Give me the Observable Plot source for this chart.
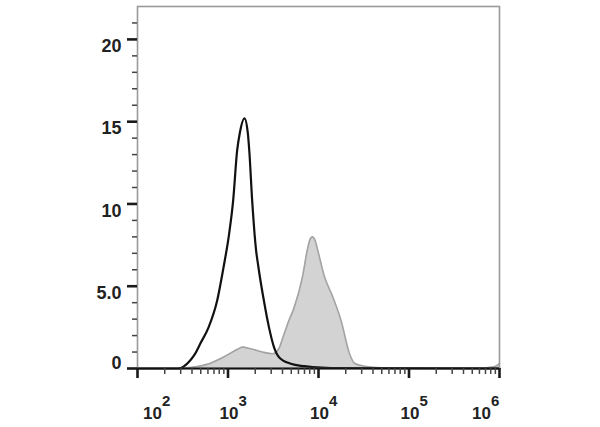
<!DOCTYPE html>
<html>
<head>
<meta charset="utf-8">
<script src="https://cdn.jsdelivr.net/npm/d3@7"></script>
<script src="https://cdn.jsdelivr.net/npm/@observablehq/plot@0.6"></script>
<style>
  html, body { margin: 0; padding: 0; background: #fff; }
  #chart { width: 600px; height: 427px; }
</style>
</head>
<body>
<div id="chart"></div>
<script>
// Control (black outline) histogram: fluorescence intensity vs count
const controlX = [100, 281, 382, 434, 493, 610, 757, 896, 1030, 1140, 1262, 1349, 1521, 1656, 1718, 1850, 2042, 2163, 2496, 2837, 3221, 3664, 4943, 6950, 8610, 13770, 1000000];
const controlY = [0, 0, 0.49, 0.9, 1.5, 2.5, 4.1, 6.2, 8.2, 10.2, 13.25, 14.3, 15.2, 14.3, 13.25, 10.2, 7.2, 6.2, 4.1, 2.5, 1.3, 0.69, 0.29, 0.14, 0.08, 0.03, 0];

// Stained (gray filled) histogram
const stainedX = [295, 434, 586, 896, 1262, 1445, 1774, 2393, 3119, 3639, 4169, 4699, 5383, 6668, 7586, 8150, 8610, 9140, 9795, 11610, 14390, 17780, 22030, 25000, 32280, 49550, 642700, 873000, 1000000];
const stainedY = [0, 0.1, 0.25, 0.7, 1.15, 1.3, 1.2, 1.0, 0.9, 1.2, 2.1, 2.9, 3.7, 5.6, 7.3, 7.9, 8.0, 7.8, 7.2, 5.6, 4.35, 2.9, 0.9, 0.32, 0.14, 0.05, 0.03, 0.1, 0.3];

// Axis ticks and labels
const yMajor = [0, 5, 10, 15, 20];
const yLabels = ["0", "5.0", "10", "15", "20"];
const yMinor = [1, 2, 3, 4, 6, 7, 8, 9, 11, 12, 13, 14, 16, 17, 18, 19, 21];
const xMajor = [1e2, 1e3, 1e4, 1e5, 1e6];
const xBase = ["10", "10", "10", "10", "10"];
const xExponents = ["2", "3", "4", "5", "6"];
const xMinor = [2, 3, 4, 5, 6, 7, 8, 9].flatMap(m => [1e2, 1e3, 1e4, 1e5].map(p => m * p));

const control = controlX.map((x, i) => ({x, count: controlY[i]}));
const stained = stainedX.map((x, i) => ({x, count: stainedY[i]}));

const font = "'Liberation Sans', Arial, Helvetica, sans-serif";

function xLabel(indices, dx) {
  const vals = indices.map(i => xMajor[i]);
  return [
    Plot.text(vals, {
      x: d => d, text: (d, i) => xBase[indices[i]],
      frameAnchor: "bottom", lineAnchor: "bottom", dy: 50, dx,
      fontSize: 17, fontWeight: "bold", fill: "#222", fontFamily: font
    }),
    Plot.text(vals, {
      x: d => d, text: (d, i) => xExponents[indices[i]],
      frameAnchor: "bottom", lineAnchor: "bottom", textAnchor: "start", dy: 37, dx: dx + 9.5,
      fontSize: 15, fontWeight: "bold", fill: "#222", fontFamily: font
    })
  ];
}

const chart = Plot.plot({
  width: 600,
  height: 427,
  marginLeft: 137,
  marginRight: 101,
  marginTop: 6,
  marginBottom: 59,
  style: {fontFamily: font, background: "#fff"},
  x: {type: "log", domain: [1e2, 1e6]},
  y: {domain: [0, 22]},
  marks: [
    Plot.areaY(stained, {x: "x", y: "count", fill: "#d3d3d3", curve: "monotone-x"}),
    Plot.lineY(stained, {x: "x", y: "count", stroke: "#a3a3a3", strokeWidth: 1.6, curve: "monotone-x"}),
    Plot.lineY(control, {x: "x", y: "count", stroke: "#111", strokeWidth: 2.2, curve: "monotone-x"}),
    Plot.frame({stroke: "#9a9a9a", strokeWidth: 1.6}),
    Plot.ruleY([0], {stroke: "#111", strokeWidth: 2.2}),
    // y ticks
    Plot.axisY(yMajor, {tickSize: 10, strokeWidth: 2.6, stroke: "#1a1a1a", tickFormat: () => "", label: null}),
    Plot.axisY(yMinor, {tickSize: 5, strokeWidth: 1.5, stroke: "#444", tickFormat: () => "", label: null}),
    // y labels
    Plot.axisY(yMajor.slice(1), {tickSize: 0, tickPadding: 16, dy: 7, fontSize: 18, fontWeight: "bold", fill: "#222",
      tickFormat: d => yLabels[yMajor.indexOf(d)], label: null}),
    Plot.axisY([0], {tickSize: 0, tickPadding: 16, dy: -5, fontSize: 18, fontWeight: "bold", fill: "#222",
      tickFormat: d => yLabels[yMajor.indexOf(d)], label: null}),
    // x ticks
    Plot.axisX(xMajor, {tickSize: 10, strokeWidth: 2.6, stroke: "#1a1a1a", tickFormat: () => "", label: null}),
    Plot.axisX(xMinor, {tickSize: 6, strokeWidth: 1.5, stroke: "#444", tickFormat: () => "", label: null}),
    // x labels 10^n
    ...xLabel([0], 15),
    ...xLabel([1, 2, 3], 1),
    ...xLabel([4], -18)
  ]
});
document.getElementById("chart").appendChild(chart);
</script>
</body>
</html>
